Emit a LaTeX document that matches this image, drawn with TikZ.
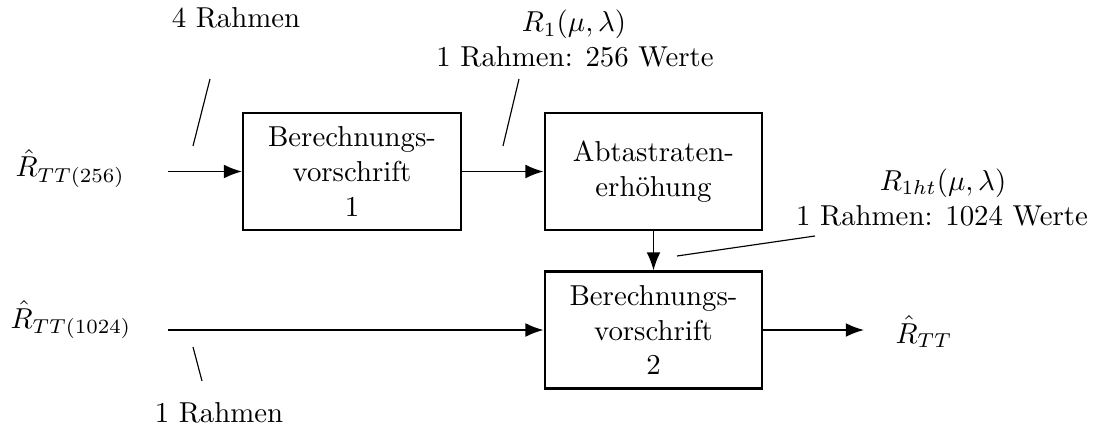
\documentclass[tikz,border=0pt]{standalone}
\usetikzlibrary{arrows.meta}
\begin{document}
\begin{tikzpicture}[x=0.347pt,y=-0.347pt,
  block/.style={draw,line width=0.7pt,minimum width=75.6pt,minimum height=40.6pt,
    inner sep=0pt,align=center},
  flow/.style={line width=0.6pt,-{Latex[length=6.3pt,width=4.8pt]}},
  tick/.style={line width=0.4pt},
  lbl/.style={inner sep=0pt,anchor=base}]
  \useasboundingbox (0,0) rectangle (1094,428);

  % processing blocks
  \node[block] (b1) at (352,171.5) {Berechnungs-\\vorschrift\\1};
  \node[block] (b2) at (653.5,171.5) {Abtastraten-\\erh\"ohung};
  \node[block] (b3) at (653.5,330) {Berechnungs-\\vorschrift\\2};

  % signals
  \node[lbl,anchor=base west] (in1) at (15,177) {$\hat R_{TT(256)}$};
  \node[lbl,anchor=base west] (in2) at (10,328) {$\hat R_{TT(1024)}$};
  \node[lbl,anchor=base west] (out) at (895,343) {$\hat R_{TT}$};
  \coordinate (s1) at (168,171.5);
  \coordinate (s2) at (168,330);
  \coordinate (e3) at (864,330);

  \draw[flow] (s1) -- (b1.west);
  \draw[flow] (b1.east) -- (b2.west);
  \draw[flow] (b2.south) -- (b3.north);
  \draw[flow] (s2) -- (b3.west);
  \draw[flow] (b3.east) -- (e3);

  % annotations
  \node[lbl] (t1) at (236,28) {4 Rahmen};
  \node[lbl] (t2a) at (574,32) {$R_1(\mu,\lambda)$};
  \node[lbl] (t2b) at (575,67) {1 Rahmen: 256 Werte};
  \node[lbl] (t3a) at (943,190) {$R_{1ht}(\mu,\lambda)$};
  \node[lbl] (t3b) at (942,226) {1 Rahmen: 1024 Werte};
  \node[lbl] (t4) at (219,422) {1 Rahmen};

  \coordinate (a1) at (210,79);  \coordinate (a2) at (193,146);
  \coordinate (c1) at (519,79);  \coordinate (c2) at (503,146);
  \coordinate (d1) at (815,236); \coordinate (d2) at (677,256);
  \coordinate (f1) at (193,347); \coordinate (f2) at (202,381);
  \draw[tick] (a1) -- (a2);
  \draw[tick] (c1) -- (c2);
  \draw[tick] (d1) -- (d2);
  \draw[tick] (f1) -- (f2);
\end{tikzpicture}
\end{document}
